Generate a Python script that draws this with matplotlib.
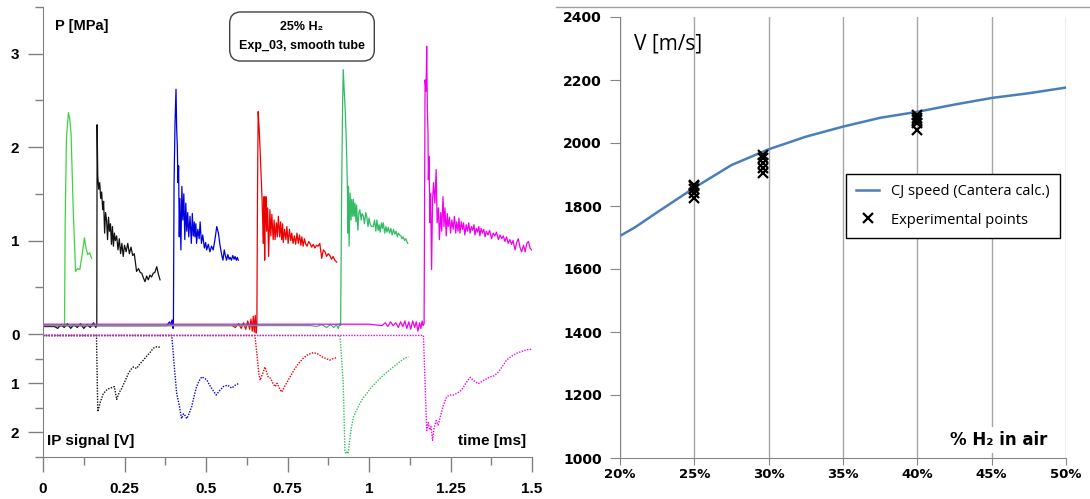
import matplotlib.pyplot as plt
import numpy as np
from matplotlib.lines import Line2D

plt.rcParams['font.family'] = ['Liberation Sans', 'DejaVu Sans']

# ---- left panel: pressure traces [MPa] vs time [ms] ----
g1_t = [0.000, 0.020, 0.040, 0.066, 0.068, 0.072, 0.078, 0.082, 0.086, 0.093,
        0.100, 0.106, 0.113, 0.120, 0.127, 0.132, 0.137, 0.143, 0.149]
g1_p = [0.09, 0.09, 0.09, 0.09, 1.20, 2.10, 2.37, 2.30, 2.15, 1.30,
        0.67, 0.70, 0.69, 0.85, 1.03, 0.92, 0.85, 0.87, 0.81]

bk_t = [0.000, 0.035, 0.045, 0.055, 0.065, 0.075, 0.085, 0.095, 0.105, 0.115, 0.125, 0.135, 0.145, 0.155, 0.162, 0.165,
        0.166, 0.168, 0.171, 0.174, 0.177, 0.180, 0.183, 0.186, 0.189, 0.192, 0.195, 0.198, 0.201, 0.204, 0.207, 0.210,
        0.213, 0.216, 0.219, 0.222, 0.226, 0.230, 0.234, 0.238, 0.242, 0.246, 0.250, 0.255, 0.260, 0.265, 0.270, 0.275,
        0.280, 0.287, 0.293, 0.298, 0.303, 0.308, 0.313, 0.318, 0.323, 0.328, 0.333, 0.338, 0.343, 0.349, 0.354, 0.359]
bk_p = [0.08, 0.08, 0.06, 0.10, 0.07, 0.11, 0.06, 0.10, 0.07, 0.11, 0.06, 0.10, 0.07, 0.12, 0.07, 0.09,
        2.24, 1.69, 1.55, 1.62, 1.45, 1.52, 1.33, 1.42, 1.08, 1.30, 1.22, 1.01, 1.25, 1.10, 1.18, 0.96,
        1.15, 0.94, 1.08, 1.00, 1.05, 0.90, 1.02, 0.86, 0.97, 0.83, 0.95, 0.88, 0.97, 0.86, 0.93, 0.84,
        0.86, 0.67, 0.70, 0.66, 0.65, 0.60, 0.56, 0.62, 0.58, 0.63, 0.61, 0.65, 0.66, 0.72, 0.64, 0.58]

bl_t = [0.000, 0.380, 0.388, 0.392, 0.396, 0.399, 0.400,
        0.402, 0.405, 0.408, 0.410, 0.412, 0.414, 0.416, 0.418, 0.420, 0.423, 0.426, 0.429, 0.432, 0.435, 0.438, 0.441,
        0.444, 0.447, 0.451, 0.455, 0.458, 0.461, 0.464, 0.466, 0.469, 0.471, 0.475, 0.479, 0.482, 0.486, 0.490, 0.495,
        0.499, 0.502, 0.507, 0.512, 0.517, 0.522, 0.527, 0.533, 0.538, 0.543, 0.548, 0.552, 0.556, 0.560, 0.563, 0.567,
        0.571, 0.574, 0.578, 0.582, 0.586, 0.589, 0.593, 0.596, 0.599]
bl_p = [0.09, 0.09, 0.13, 0.10, 0.15, 0.06, 0.09,
        1.60, 2.26, 2.62, 2.20, 2.01, 1.62, 1.80, 1.04, 1.45, 0.90, 1.58, 1.22, 1.50, 1.01, 1.40, 1.10,
        1.30, 1.04, 1.26, 0.97, 1.29, 1.05, 1.20, 1.04, 1.18, 0.97, 1.12, 1.02, 1.20, 0.97, 1.06, 0.92,
        0.98, 0.90, 0.96, 0.88, 0.94, 0.90, 1.00, 1.15, 1.08, 0.95, 0.85, 0.79, 0.90, 0.83, 0.79, 0.85,
        0.80, 0.82, 0.79, 0.84, 0.80, 0.83, 0.79, 0.82, 0.79]

rd_t = [0.000, 0.580, 0.590, 0.600, 0.608, 0.615, 0.622, 0.628, 0.634, 0.638, 0.642, 0.645, 0.648, 0.651, 0.654, 0.656,
        0.658, 0.660, 0.663, 0.666, 0.669, 0.672, 0.674, 0.676, 0.678, 0.680, 0.682, 0.684, 0.686, 0.689, 0.692, 0.696,
        0.699, 0.702, 0.706, 0.709, 0.712, 0.716, 0.719, 0.722, 0.726, 0.729, 0.732, 0.735, 0.737, 0.741, 0.745, 0.748,
        0.752, 0.756, 0.760, 0.763, 0.767, 0.771, 0.775, 0.779, 0.783, 0.787, 0.791, 0.794, 0.798, 0.802, 0.806, 0.810,
        0.815, 0.819, 0.824, 0.829, 0.834, 0.839, 0.844, 0.849, 0.855, 0.860, 0.865, 0.870, 0.875, 0.880, 0.885, 0.890, 0.895, 0.901]
rd_p = [0.09, 0.09, 0.07, 0.11, 0.06, 0.12, 0.05, 0.14, 0.05, 0.16, 0.03, 0.19, 0.02, 0.20, 0.01, 0.09,
        1.50, 2.38, 2.20, 1.97, 1.70, 1.44, 1.20, 0.97, 1.47, 0.79, 1.30, 1.47, 1.10, 1.35, 0.83, 1.33,
        1.05, 1.28, 1.01, 1.22, 1.01, 1.19, 1.04, 1.26, 1.04, 1.20, 1.01, 1.18, 0.98, 1.12, 1.01, 1.15,
        0.97, 1.12, 1.00, 1.08, 0.97, 1.05, 0.96, 1.08, 0.97, 1.06, 0.95, 1.04, 0.94, 1.02, 0.96, 0.94,
        0.99, 0.97, 0.93, 0.96, 0.92, 0.95, 0.94, 0.97, 0.81, 0.90, 0.88, 0.83, 0.86, 0.84, 0.80, 0.83, 0.79, 0.77]

g2_t = [0.000, 0.820, 0.840, 0.855, 0.870, 0.882, 0.892, 0.900, 0.906, 0.910, 0.913,
        0.916, 0.919, 0.921, 0.924, 0.927, 0.930, 0.932, 0.934, 0.935, 0.937, 0.939, 0.942, 0.945, 0.947, 0.950, 0.952,
        0.955, 0.957, 0.960, 0.962, 0.966, 0.969, 0.972, 0.976, 0.979, 0.983, 0.986, 0.990, 0.993, 0.997, 1.000, 1.004,
        1.008, 1.013, 1.017, 1.021, 1.024, 1.028, 1.031, 1.034, 1.038, 1.041, 1.044, 1.048, 1.052, 1.055, 1.059, 1.063,
        1.067, 1.071, 1.075, 1.079, 1.083, 1.087, 1.090, 1.094, 1.098, 1.101, 1.105, 1.109, 1.113, 1.116, 1.119]
g2_p = [0.09, 0.09, 0.08, 0.10, 0.07, 0.10, 0.07, 0.10, 0.06, 0.11, 0.09,
        1.50, 2.45, 2.83, 2.60, 2.40, 2.10, 1.86, 1.50, 1.08, 1.58, 0.94, 1.51, 1.22, 1.44, 1.26, 1.44,
        1.26, 1.40, 1.20, 1.38, 1.11, 1.30, 1.33, 1.22, 1.29, 1.26, 1.18, 1.30, 1.26, 1.15, 1.24, 1.17,
        1.15, 1.15, 1.22, 1.10, 1.22, 1.11, 1.17, 1.09, 1.19, 1.13, 1.19, 1.08, 1.15, 1.09, 1.14, 1.08,
        1.13, 1.06, 1.12, 1.07, 1.10, 1.04, 1.08, 1.06, 1.05, 1.02, 1.04, 1.00, 1.02, 0.99, 0.97]

mg_t = [0.000, 0.900, 1.000, 1.040, 1.050, 1.058, 1.066, 1.074, 1.082, 1.090, 1.097, 1.104, 1.110, 1.116, 1.122,
        1.128, 1.134, 1.140, 1.145, 1.150, 1.155, 1.159, 1.163, 1.166, 1.169,
        1.172, 1.175, 1.177, 1.179, 1.181, 1.182, 1.184, 1.187, 1.189, 1.192, 1.195, 1.198, 1.202, 1.206, 1.209, 1.213,
        1.216, 1.220, 1.223, 1.227, 1.230, 1.233, 1.237, 1.240, 1.243, 1.247, 1.250, 1.254, 1.258, 1.262, 1.266, 1.269,
        1.273, 1.276, 1.279, 1.283, 1.287, 1.290, 1.294, 1.298, 1.302, 1.306, 1.310, 1.314, 1.318, 1.322, 1.325, 1.329,
        1.333, 1.337, 1.340, 1.344, 1.348, 1.352, 1.356, 1.360, 1.365, 1.370, 1.376, 1.381, 1.386, 1.391, 1.397, 1.402,
        1.407, 1.412, 1.417, 1.422, 1.427, 1.432, 1.437, 1.442, 1.448, 1.453, 1.458, 1.463, 1.468, 1.474, 1.479, 1.484,
        1.489, 1.494, 1.499]
mg_p = [0.105, 0.105, 0.105, 0.09, 0.12, 0.08, 0.13, 0.09, 0.12, 0.07, 0.13, 0.08, 0.14, 0.06, 0.13,
        0.05, 0.14, 0.07, 0.13, 0.03, 0.12, 0.06, 0.14, 0.09, 0.11,
        2.72, 2.60, 3.08, 2.40, 2.15, 1.65, 1.90, 1.19, 1.50, 0.69, 1.44, 1.62, 1.40, 1.76, 1.19, 1.35,
        1.01, 1.30, 1.10, 1.47, 1.15, 1.35, 1.05, 1.29, 1.15, 1.25, 1.08, 1.22, 1.12, 1.26, 1.08, 1.20,
        1.10, 1.24, 1.08, 1.20, 1.12, 1.19, 1.06, 1.17, 1.10, 1.19, 1.08, 1.15, 1.11, 1.17, 1.06, 1.13,
        1.09, 1.15, 1.05, 1.13, 1.08, 1.12, 1.04, 1.10, 1.06, 1.11, 1.02, 1.08, 1.05, 1.09, 1.01, 1.06,
        1.02, 1.05, 0.99, 1.04, 0.97, 1.01, 0.96, 1.00, 0.90, 0.98, 1.02, 0.93, 0.88, 0.95, 0.88, 0.97,
        0.99, 0.92, 0.90]

# ---- ionisation probe signals [V] (plotted downwards) ----
ipk_t = [0.000, 0.164, 0.166, 0.168, 0.175, 0.185, 0.198, 0.211, 0.219, 0.226, 0.233, 0.241, 0.252, 0.262, 0.270,
         0.277, 0.287, 0.298, 0.308, 0.318, 0.328, 0.338, 0.348, 0.359]
ipk_v = [0.03, 0.03, 0.80, 1.58, 1.40, 1.21, 1.12, 1.09, 1.07, 1.33, 1.20, 1.11, 0.95, 0.80, 0.72,
         0.67, 0.70, 0.60, 0.53, 0.45, 0.38, 0.29, 0.26, 0.27]
ipb_t = [0.000, 0.395, 0.402, 0.410, 0.418, 0.425, 0.431, 0.436, 0.441, 0.448, 0.456, 0.464, 0.471, 0.479, 0.487,
         0.495, 0.502, 0.512, 0.522, 0.531, 0.542, 0.553, 0.566, 0.579, 0.590, 0.599]
ipb_v = [0.03, 0.03, 0.60, 1.21, 1.45, 1.72, 1.62, 1.66, 1.72, 1.62, 1.48, 1.25, 1.07, 0.95, 0.87,
         0.90, 0.93, 1.05, 1.15, 1.24, 1.15, 1.07, 1.04, 1.10, 1.04, 1.01]
ipr_t = [0.000, 0.650, 0.656, 0.662, 0.666, 0.674, 0.681, 0.686, 0.691, 0.698, 0.705, 0.712, 0.718, 0.725, 0.732,
         0.745, 0.758, 0.771, 0.784, 0.797, 0.810, 0.820, 0.829, 0.842, 0.855, 0.868, 0.880, 0.890, 0.901]
ipr_v = [0.03, 0.03, 0.40, 0.80, 0.94, 0.80, 0.67, 0.78, 0.88, 0.90, 1.00, 1.07, 1.00, 1.10, 1.18,
         1.02, 0.87, 0.72, 0.60, 0.50, 0.43, 0.40, 0.38, 0.40, 0.46, 0.50, 0.53, 0.50, 0.48]
ipg_t = [0.000, 0.911, 0.916, 0.921, 0.924, 0.926, 0.929, 0.932, 0.936, 0.940, 0.946, 0.952, 0.962, 0.972, 0.982,
         0.993, 1.005, 1.018, 1.031, 1.044, 1.054, 1.064, 1.080, 1.095, 1.108, 1.121]
ipg_v = [0.03, 0.03, 0.50, 1.01, 1.80, 2.37, 2.43, 2.40, 2.43, 2.20, 1.90, 1.69, 1.55, 1.41, 1.30,
         1.21, 1.10, 1.01, 0.92, 0.84, 0.78, 0.73, 0.64, 0.56, 0.50, 0.46]
ipm_t = [0.000, 1.167, 1.172, 1.177, 1.182, 1.186, 1.190, 1.195, 1.200, 1.206, 1.212, 1.218, 1.228, 1.238, 1.248,
         1.259, 1.271, 1.284, 1.297, 1.310, 1.322, 1.335, 1.350, 1.371, 1.384, 1.397, 1.410, 1.422, 1.438, 1.453,
         1.470, 1.485, 1.499]
ipm_v = [0.03, 0.03, 1.00, 1.96, 1.80, 1.95, 1.88, 2.16, 1.90, 1.76, 1.85, 1.70, 1.45, 1.28, 1.24,
         1.24, 1.20, 1.14, 1.00, 0.88, 0.95, 1.01, 0.95, 0.87, 0.85, 0.77, 0.65, 0.53, 0.45, 0.39,
         0.35, 0.32, 0.31]

# ---- right panel: detonation speed vs H2 content ----
cj_h2 = [20, 21, 22.5, 25, 27.5, 30, 32.5, 35, 37.5, 40, 42.5, 45, 47.5, 50]
cj_v = [1705, 1732, 1780, 1858, 1930, 1980, 2020, 2052, 2080, 2099, 2122, 2143, 2158, 2176]
exp_h2 = [25, 25, 25, 25, 25, 29.6, 29.6, 29.6, 29.6, 29.6, 40, 40, 40, 40, 40]
exp_v = [1868, 1862, 1855, 1842, 1825, 1962, 1951, 1935, 1921, 1904, 2088, 2080, 2072, 2065, 2042]

col_g1 = '#3fd43f'
col_bk = '#111111'
col_bl = '#0000dd'
col_rd = '#ee0000'
col_g2 = '#33bb66'
col_mg = '#ee00ee'
axis_grey = '#808080'

W, H = 1090, 499
fig = plt.figure(figsize=(W / 100, H / 100), dpi=100)

axP = fig.add_axes([43 / W, 165 / H, 489 / W, 327 / H])
axI = fig.add_axes([43 / W, 42 / H, 489 / W, 123 / H])

for t, p, c in [(g1_t, g1_p, col_g1), (bk_t, bk_p, col_bk), (bl_t, bl_p, col_bl),
                (rd_t, rd_p, col_rd), (g2_t, g2_p, col_g2), (mg_t, mg_p, col_mg)]:
    axP.plot(t, p, color=c, lw=0.9)

for t, v, c in [(ipk_t, ipk_v, col_bk), (ipb_t, ipb_v, col_bl), (ipr_t, ipr_v, col_rd),
                (ipg_t, ipg_v, col_g2), (ipm_t, ipm_v, col_mg)]:
    axI.plot(t, v, color=c, lw=1.0, linestyle=(0, (1, 1)))

axP.set_xlim(0, 1.5)
axP.set_ylim(0, 3.5)
axI.set_xlim(0, 1.5)
axI.set_ylim(2.5, 0)

for a in (axP, axI):
    for s in ['top', 'right']:
        a.spines[s].set_visible(False)
    a.spines['left'].set_color(axis_grey)
    a.tick_params(which='major', length=11, width=1, color=axis_grey, pad=6, labelsize=11)
    a.tick_params(which='minor', length=5.5, width=1, color=axis_grey)

axP.spines['bottom'].set_visible(False)
axP.set_xticks([])
axP.set_yticks([0, 1, 2, 3])
axP.set_yticklabels(['0', '1', '2', '3'], fontweight='bold')
axP.set_yticks([0.5, 1.5, 2.5, 3.5], minor=True)

axI.spines['bottom'].set_color(axis_grey)
axI.set_yticks([1, 2])
axI.set_yticklabels(['1', '2'], fontweight='bold')
axI.set_yticks([0.5, 1.5, 2.5], minor=True)
axI.set_xticks(np.arange(0, 1.51, 0.25))
axI.set_xticklabels(['0', '0.25', '0.5', '0.75', '1', '1.25', '1.5'], fontweight='bold')
axI.set_xticks(np.arange(0.125, 1.5, 0.25), minor=True)
axI.tick_params(axis='x', which='major', pad=7)

fig.text(55 / W, 1 - 26 / H, 'P [MPa]', fontsize=10.5, fontweight='bold', va='center')
fig.text(47 / W, 1 - 441 / H, 'IP signal [V]', fontsize=11, fontweight='bold', va='center')
fig.text(526 / W, 1 - 441 / H, 'time [ms]', fontsize=11, fontweight='bold', va='center', ha='right')
fig.text(302 / W, 1 - 36.5 / H, '25% H\u2082\nExp_03, smooth tube', fontsize=9, fontweight='bold',
         ha='center', va='center', linespacing=1.7, multialignment='center',
         bbox=dict(boxstyle='round,pad=0.75,rounding_size=0.9', fc='white', ec='#404040', lw=1))

# ---- right panel ----
axR = fig.add_axes([620 / W, 41 / H, 446 / W, 441 / H])
axR.plot(cj_h2, cj_v, color='#4a7ebb', lw=1.8, label='CJ speed (Cantera calc.)')
axR.plot(exp_h2, exp_v, linestyle='none', marker='x', ms=7, mew=1.6, color='black',
         label='Experimental points')
axR.set_xlim(20, 50)
axR.set_ylim(1000, 2400)
axR.set_xticks(np.arange(20, 51, 5))
axR.set_xticklabels([f'{x}%' for x in range(20, 51, 5)], fontsize=9.5, fontweight='bold',
                    family='DejaVu Sans')
axR.set_yticks(np.arange(1000, 2401, 200))
axR.set_yticklabels([str(y) for y in range(1000, 2401, 200)], fontsize=10, fontweight='bold',
                    family='DejaVu Sans')
axR.set_yticks([1400, 1800, 2200], minor=True)
axR.grid(axis='x', which='major', color='#a6a6a6', lw=1)
axR.grid(axis='y', which='minor', color='#a6a6a6', lw=1)
axR.set_axisbelow(True)
for s in ['top', 'right']:
    axR.spines[s].set_visible(False)
for s in ['left', 'bottom']:
    axR.spines[s].set_color('#868686')
axR.tick_params(axis='y', which='major', length=7, color='#868686', pad=6)
axR.tick_params(axis='y', which='minor', length=0)
axR.tick_params(axis='x', which='major', length=5, color='#868686', pad=2)

leg = axR.legend(loc='upper left', bbox_to_anchor=(0.49, 0.66), frameon=True, fancybox=False,
                 edgecolor='black', framealpha=1, borderpad=0.7, handlelength=1.6,
                 labelspacing=0.9, prop={'family': ['Open Sans', 'DejaVu Sans'], 'size': 10.5})
leg.get_frame().set_linewidth(1)

fig.text(634 / W, 1 - 44 / H, 'V [m/s]', fontsize=15, family=['Open Sans', 'DejaVu Sans'], va='center')
fig.text(1047 / W, 1 - 440 / H, '% H\u2082 in air', fontsize=12, fontweight='bold',
         family=['DejaVu Sans'], ha='right', va='center', bbox=dict(fc='white', ec='none', pad=3))

fig.add_artist(Line2D([556 / W, 1], [1 - 7 / H, 1 - 7 / H], color='#a0a0a0', lw=1))

fig.savefig('out.png', dpi=100)
